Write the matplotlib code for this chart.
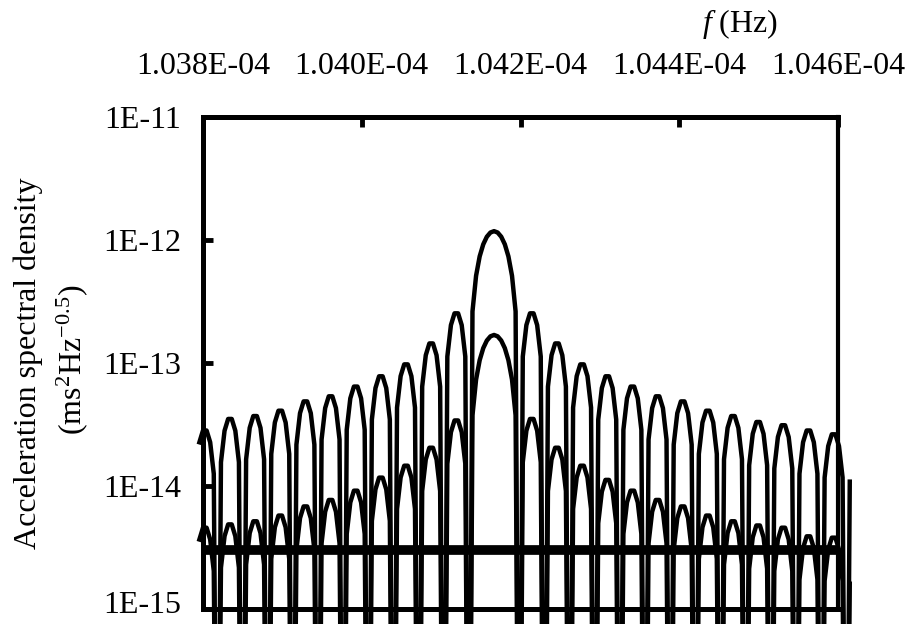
import numpy as np
import matplotlib.pyplot as plt
from matplotlib.ticker import NullLocator
from matplotlib.transforms import ScaledTranslation

plt.rcParams['font.family'] = 'Liberation Serif'
plt.rcParams['mathtext.fontset'] = 'custom'
plt.rcParams['mathtext.rm'] = 'Liberation Serif'
plt.rcParams['mathtext.it'] = 'Liberation Serif:italic'

# line frequency and one-year resolution bin
f0 = 1.0 / 9600.0
bin_width = 1.0 / (365.25 * 86400.0)
f_start = 1.037924e-4
f_end = 1.04615e-4

# lobe peaks (main lobe, then side lobes going outward)
big_main = 1.18e-12
big_left = [2.6e-13, 1.48e-13, 1.0e-13, 8.0e-14, 6.6e-14, 5.5e-14,
            5.0e-14, 4.2e-14, 3.8e-14, 3.6e-14, 2.9e-14]
big_right = [2.6e-13, 1.48e-13, 1.0e-13, 8.0e-14, 6.6e-14, 5.5e-14,
             5.0e-14, 4.2e-14, 3.8e-14, 3.4e-14, 3.2e-14, 2.9e-14,
             2.7e-14, 2.5e-14]
small_main = 1.69e-13
small_left = [3.5e-14, 2.1e-14, 1.5e-14, 1.2e-14, 9.4e-15, 7.9e-15,
              7.0e-15, 5.9e-15, 5.3e-15, 5.0e-15, 4.7e-15]
small_right = [3.6e-14, 2.1e-14, 1.5e-14, 1.15e-14, 9.4e-15, 7.9e-15,
               7.0e-15, 5.9e-15, 5.3e-15, 4.9e-15, 4.7e-15, 4.0e-15,
               3.9e-15, 3.7e-15]
noise_level = 3.0e-15

xtick_vals = [1.038e-4, 1.040e-4, 1.042e-4, 1.044e-4, 1.046e-4]
xtick_labels = ['1.038E-04', '1.040E-04', '1.042E-04', '1.044E-04', '1.046E-04']
ytick_vals = [1e-15, 1e-14, 1e-13, 1e-12, 1e-11]
ytick_labels = ['1E-15', '1E-14', '1E-13', '1E-12', '1E-11']


def lobe(a, b, peak, n):
    t = np.linspace(0, 1, n + 1)
    p = peak * np.abs(np.sin(np.pi * t))
    p[p < 1e-18] = 1e-18
    return a + t * (b - a), p


def spectrum(main, left, right, n=7):
    fs, ps = [], []
    for k in range(len(left), 0, -1):
        f, p = lobe(f0 - (k + 1) * bin_width, f0 - k * bin_width, left[k - 1], n)
        fs.append(f)
        ps.append(p)
    f, p = lobe(f0 - bin_width, f0 + bin_width, main, 2 * n)
    fs.append(f)
    ps.append(p)
    for k in range(1, len(right) + 1):
        f, p = lobe(f0 + k * bin_width, f0 + (k + 1) * bin_width, right[k - 1], n)
        fs.append(f)
        ps.append(p)
    f = np.concatenate(fs)
    p = np.concatenate(ps)
    keep = (f >= f_start) & (f <= f_end)
    return f[keep], p[keep]


fig = plt.figure(figsize=(9.14, 6.24), dpi=100)
ax = fig.add_axes([203 / 914, 1 - 609 / 624, 635 / 914, 492 / 624])

fb, pb = spectrum(big_main, big_left, big_right)
fsm, psm = spectrum(small_main, small_left, small_right)
ax.plot(fb, pb, color='black', lw=3.2, clip_on=False)
ax.plot(fsm, psm, color='black', lw=3.2, clip_on=False)
ax.plot([xtick_vals[0], xtick_vals[-1]], [noise_level, noise_level],
        color='black', lw=7, solid_capstyle='butt')

ax.set_yscale('log')
ax.set_xlim(xtick_vals[0], xtick_vals[-1])
ax.set_ylim(1e-15, 1e-11)

ax.xaxis.tick_top()
ax.set_xticks(xtick_vals, xtick_labels)
ax.set_yticks(ytick_vals, ytick_labels)
ax.yaxis.set_minor_locator(NullLocator())
ax.xaxis.set_minor_locator(NullLocator())
ax.tick_params(axis='x', direction='in', length=7, width=3.5, pad=26,
               labelsize=23, top=True, bottom=False)
ax.tick_params(axis='y', direction='in', length=7, width=3.5, pad=16,
               labelsize=23, left=True, right=False)
for side in ['top', 'left', 'bottom']:
    ax.spines[side].set_linewidth(3.6)
ax.spines['right'].set_linewidth(3.0)

# lift the bottom label a little so it stays on the canvas
lowest = ax.get_yticklabels()[0]
lowest.set_transform(lowest.get_transform() + ScaledTranslation(0, 5 / 72, fig.dpi_scale_trans))

fig.text(740 / 914, 1 - 24 / 624, '$f$ (Hz)', fontsize=23, ha='center', va='center')
fig.text(28 / 914, 1 - 363 / 624, 'Acceleration spectral density', fontsize=23,
         rotation=90, ha='center', va='center')
fig.text(72 / 914, 1 - 360 / 624, '(ms$^2$Hz$^{-0.5}$)', fontsize=23,
         rotation=90, ha='center', va='center')

fig.savefig('out.png', dpi=100)
